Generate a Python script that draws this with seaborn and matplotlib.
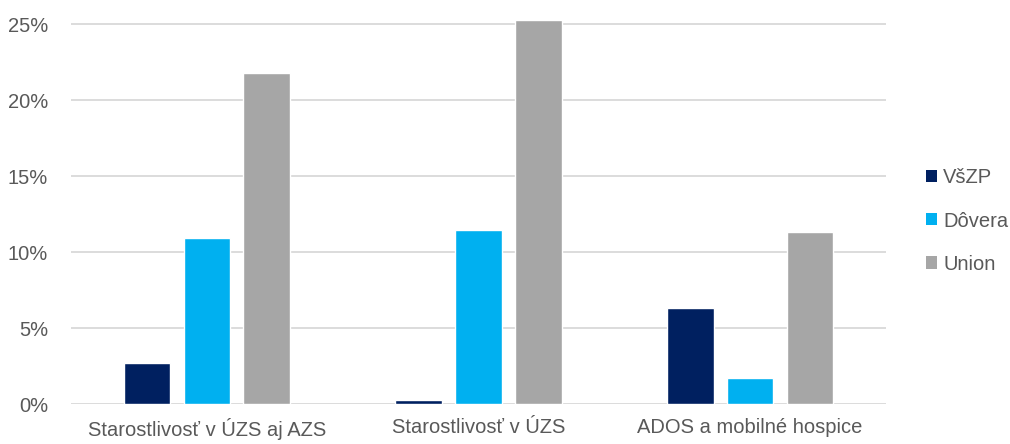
import matplotlib
matplotlib.use("Agg")
import matplotlib.pyplot as plt
import seaborn as sns
import pandas as pd
from matplotlib.ticker import PercentFormatter
from matplotlib.patches import Patch

categories = ["Starostlivosť v ÚZS aj AZS", "Starostlivosť v ÚZS", "ADOS a mobilné hospice"]
series = ["VšZP", "Dôvera", "Union"]
vszp = [0.027, 0.0026, 0.063]
dovera = [0.109, 0.1145, 0.017]
union = [0.218, 0.2525, 0.113]
colors = ["#002060", "#00B0F0", "#A6A6A6"]

rows = []
for s, vals in zip(series, [vszp, dovera, union]):
    for c, v in zip(categories, vals):
        rows.append({"cat": c, "series": s, "val": v})
df = pd.DataFrame(rows)

sns.set_style("white")
plt.rcParams["font.family"] = ["Liberation Sans", "DejaVu Sans"]
fs = 14.5

fig = plt.figure(figsize=(10.1, 4.44), dpi=100)
ax = fig.add_axes([71/1010, 40/444, (886-71)/1010, (404-15)/444])
sns.barplot(data=df, x="cat", y="val", hue="series", order=categories, hue_order=series,
            palette=colors, width=0.66, gap=0.22, ax=ax, legend=False, saturation=1)
ax.set_xlim(-0.5, 2.5)
ax.set_ylim(0, 0.256)
ax.set_yticks([0, 0.05, 0.10, 0.15, 0.20, 0.25])
ax.yaxis.set_major_formatter(PercentFormatter(1.0, decimals=0))
ax.grid(axis="y", color="#D9D9D9", linewidth=1.3)
ax.set_axisbelow(True)
for sp in ax.spines.values():
    sp.set_visible(False)
ax.tick_params(axis="both", length=0, labelsize=fs, colors="#595959")
ax.tick_params(axis="x", pad=10)
ax.tick_params(axis="y", pad=16.5)
ax.set_xlabel("")
ax.set_ylabel("")

handles = [Patch(facecolor=c, edgecolor="none") for c in colors]
fig.legend(handles, series, loc="center left", bbox_to_anchor=(920/1010, 1 - 221/444),
           frameon=False, fontsize=fs, labelcolor="#595959", handlelength=0.55,
           handleheight=0.55, handletextpad=0.3, labelspacing=1.2, borderaxespad=0,
           borderpad=0.3)
fig.savefig("out.png", dpi=100)
